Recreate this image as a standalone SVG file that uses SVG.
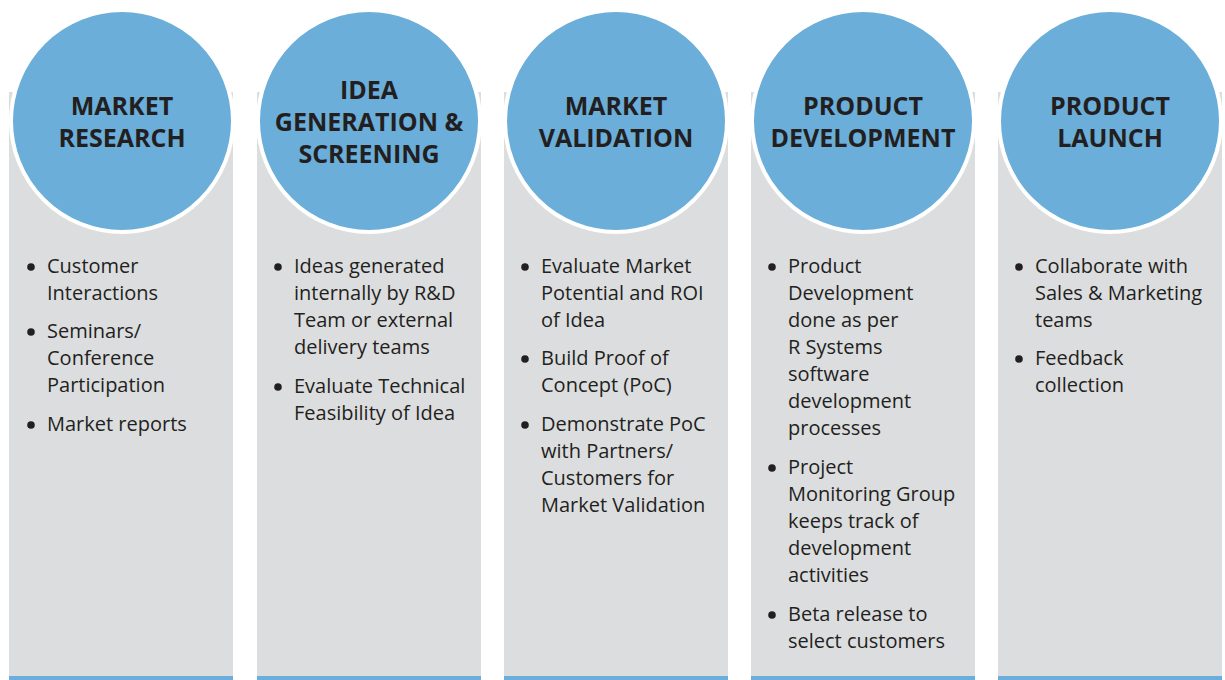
<svg xmlns="http://www.w3.org/2000/svg" width="1225" height="680" viewBox="0 0 1225 680">
<style>
.col{fill:#dcdddf}
.bar{fill:#6aaed9}
.circ{fill:#6aaed9;stroke:#ffffff;stroke-width:4}
.hd{font-family:"Open Sans","Liberation Sans",sans-serif;font-weight:bold;font-size:25px;fill:#231f20;text-anchor:middle}
.tx{font-family:"Open Sans","Liberation Sans",sans-serif;font-size:20px;fill:#231f20}
.dot{fill:#231f20}
</style>
<rect width="1225" height="680" fill="#ffffff"/>
<g id="col1">
<rect class="col" x="9" y="92" width="224" height="588"/>
<rect class="bar" x="9" y="676" width="224" height="4"/>
<circle class="circ" cx="122" cy="121" r="111"/>
<text class="hd" x="122" y="115">MARKET</text>
<text class="hd" x="122" y="147">RESEARCH</text>
<circle class="dot" cx="31" cy="267" r="3.8"/>
<circle class="dot" cx="31" cy="332" r="3.8"/>
<circle class="dot" cx="31" cy="425" r="3.8"/>
<text class="tx" x="47" y="273">Customer</text>
<text class="tx" x="47" y="300">Interactions</text>
<text class="tx" x="47" y="338">Seminars/</text>
<text class="tx" x="47" y="365">Conference</text>
<text class="tx" x="47" y="392">Participation</text>
<text class="tx" x="47" y="431">Market reports</text>
</g>
<g id="col2">
<rect class="col" x="257" y="92" width="224" height="588"/>
<rect class="bar" x="257" y="676" width="224" height="4"/>
<circle class="circ" cx="369" cy="121" r="111"/>
<text class="hd" x="369" y="99">IDEA</text>
<text class="hd" x="369" y="131">GENERATION &amp;</text>
<text class="hd" x="369" y="163">SCREENING</text>
<circle class="dot" cx="278" cy="267" r="3.8"/>
<circle class="dot" cx="278" cy="387" r="3.8"/>
<text class="tx" x="294" y="273">Ideas generated</text>
<text class="tx" x="294" y="300">internally by R&amp;D</text>
<text class="tx" x="294" y="327">Team or external</text>
<text class="tx" x="294" y="354">delivery teams</text>
<text class="tx" x="294" y="393">Evaluate Technical</text>
<text class="tx" x="294" y="420">Feasibility of Idea</text>
</g>
<g id="col3">
<rect class="col" x="504" y="92" width="224" height="588"/>
<rect class="bar" x="504" y="676" width="224" height="4"/>
<circle class="circ" cx="616" cy="121" r="111"/>
<text class="hd" x="616" y="115">MARKET</text>
<text class="hd" x="616" y="147">VALIDATION</text>
<circle class="dot" cx="525" cy="267" r="3.8"/>
<circle class="dot" cx="525" cy="359" r="3.8"/>
<circle class="dot" cx="525" cy="425" r="3.8"/>
<text class="tx" x="541" y="273">Evaluate Market</text>
<text class="tx" x="541" y="300">Potential and ROI</text>
<text class="tx" x="541" y="327">of Idea</text>
<text class="tx" x="541" y="365">Build Proof of</text>
<text class="tx" x="541" y="392">Concept (PoC)</text>
<text class="tx" x="541" y="431">Demonstrate PoC</text>
<text class="tx" x="541" y="458">with Partners/</text>
<text class="tx" x="541" y="485">Customers for</text>
<text class="tx" x="541" y="512">Market Validation</text>
</g>
<g id="col4">
<rect class="col" x="751" y="92" width="224" height="588"/>
<rect class="bar" x="751" y="676" width="224" height="4"/>
<circle class="circ" cx="863" cy="121" r="111"/>
<text class="hd" x="863" y="115">PRODUCT</text>
<text class="hd" x="863" y="147">DEVELOPMENT</text>
<circle class="dot" cx="772" cy="267" r="3.8"/>
<circle class="dot" cx="772" cy="468" r="3.8"/>
<circle class="dot" cx="772" cy="615" r="3.8"/>
<text class="tx" x="788" y="273">Product</text>
<text class="tx" x="788" y="300">Development</text>
<text class="tx" x="788" y="327">done as per</text>
<text class="tx" x="788" y="354">R Systems</text>
<text class="tx" x="788" y="381">software</text>
<text class="tx" x="788" y="408">development</text>
<text class="tx" x="788" y="435">processes</text>
<text class="tx" x="788" y="474">Project</text>
<text class="tx" x="788" y="501">Monitoring Group</text>
<text class="tx" x="788" y="528">keeps track of</text>
<text class="tx" x="788" y="555">development</text>
<text class="tx" x="788" y="582">activities</text>
<text class="tx" x="788" y="621">Beta release to</text>
<text class="tx" x="788" y="648">select customers</text>
</g>
<g id="col5">
<rect class="col" x="998" y="92" width="224" height="588"/>
<rect class="bar" x="998" y="676" width="224" height="4"/>
<circle class="circ" cx="1110" cy="121" r="111"/>
<text class="hd" x="1110" y="115">PRODUCT</text>
<text class="hd" x="1110" y="147">LAUNCH</text>
<circle class="dot" cx="1019" cy="267" r="3.8"/>
<circle class="dot" cx="1019" cy="359" r="3.8"/>
<text class="tx" x="1035" y="273">Collaborate with</text>
<text class="tx" x="1035" y="300">Sales &amp; Marketing</text>
<text class="tx" x="1035" y="327">teams</text>
<text class="tx" x="1035" y="365">Feedback</text>
<text class="tx" x="1035" y="392">collection</text>
</g>
<g id="connectors"/>
</svg>
